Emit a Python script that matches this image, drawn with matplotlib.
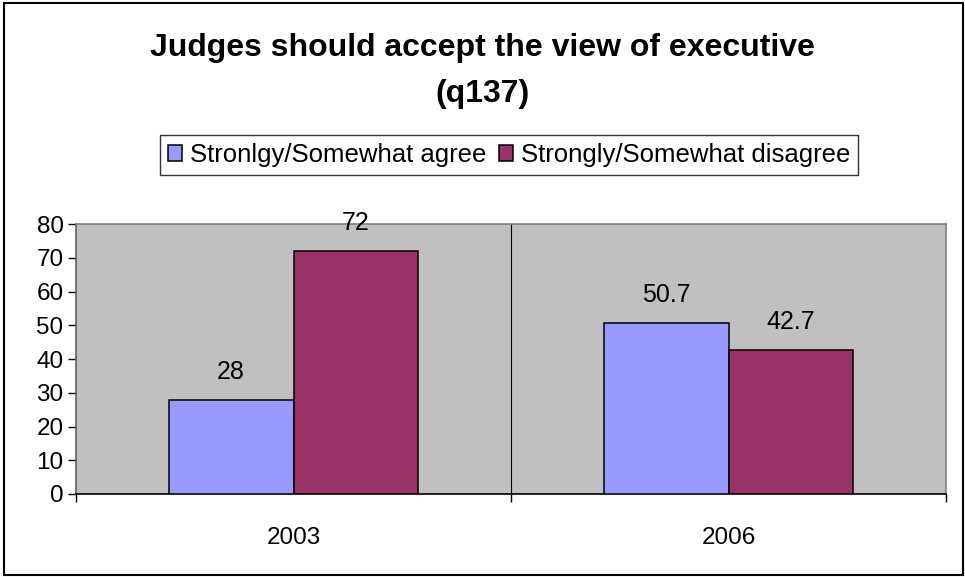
import matplotlib
matplotlib.use("Agg")
import matplotlib.pyplot as plt
import numpy as np
from matplotlib.patches import Rectangle

years = ["2003", "2006"]
agree = [28, 50.7]
disagree = [72, 42.7]
series_names = ["Stronlgy/Somewhat agree", "Strongly/Somewhat disagree"]
title = "Judges should accept the view of executive\n(q137)"

plt.rcParams["font.family"] = ["Liberation Sans", "DejaVu Sans"]

fig = plt.figure(figsize=(9.65, 5.77), dpi=100)
ax = fig.add_axes([76 / 965, 1 - 494 / 577, 870 / 965, 270 / 577])
ax.set_facecolor("#C0C0C0")

x = np.arange(len(years))
w = 0.287
b1 = ax.bar(x - w / 2, agree, w, color="#9999FF", edgecolor="black", linewidth=1.1,
            label=series_names[0], zorder=3)
b2 = ax.bar(x + w / 2, disagree, w, color="#993366", edgecolor="black", linewidth=1.1,
            label=series_names[1], zorder=3)

for bars, vals in ((b1, agree), (b2, disagree)):
    for r, v in zip(bars, vals):
        ax.annotate(f"{v:g}", (r.get_x() + r.get_width() / 2, v),
                    xytext=(0, 20), textcoords="offset points",
                    ha="center", va="center", fontsize=18)

ax.set_xlim(-0.5, len(years) - 0.5)
ax.set_ylim(0, 80)
ax.set_yticks(range(0, 81, 10))
ax.tick_params(axis="y", labelsize=17.5, length=6, width=1, pad=3)

# category labels in the middle, tick marks on the boundaries
ax.set_xticks(x)
ax.set_xticklabels(years, fontsize=17.5)
ax.tick_params(axis="x", which="major", length=0, pad=24)
ax.set_xticks(np.arange(-0.5, len(years), 1), minor=True)
ax.tick_params(axis="x", which="minor", length=6, width=1)

for xb in np.arange(0.5, len(years) - 0.5, 1):
    ax.axvline(xb, color="black", linewidth=0.8, zorder=1)

ax.spines["top"].set_color("#808080")
ax.spines["right"].set_color("#808080")
ax.spines["left"].set_color("#606060")
for s in ax.spines.values():
    s.set_linewidth(1.2)

fig.text(0.5, 1 - 71 / 577, title, ha="center", va="center", fontsize=23,
         fontweight="bold", linespacing=1.68)

leg = fig.legend(loc="center", bbox_to_anchor=(509 / 965, 1 - 155 / 577), ncol=2,
                 fontsize=18.5, frameon=True, fancybox=False, edgecolor="black",
                 handlelength=0.55, handleheight=0.55, handletextpad=0.3,
                 columnspacing=0.5, borderpad=0.3, borderaxespad=0.0)
leg.get_frame().set_linewidth(1.0)
leg._legend_box.sep = 6

fig.patches.append(Rectangle((4 / 965, 2 / 577), 959 / 965, 572 / 577, transform=fig.transFigure,
                             fill=False, edgecolor="black", linewidth=1.5))

fig.savefig("out.png", dpi=100)
